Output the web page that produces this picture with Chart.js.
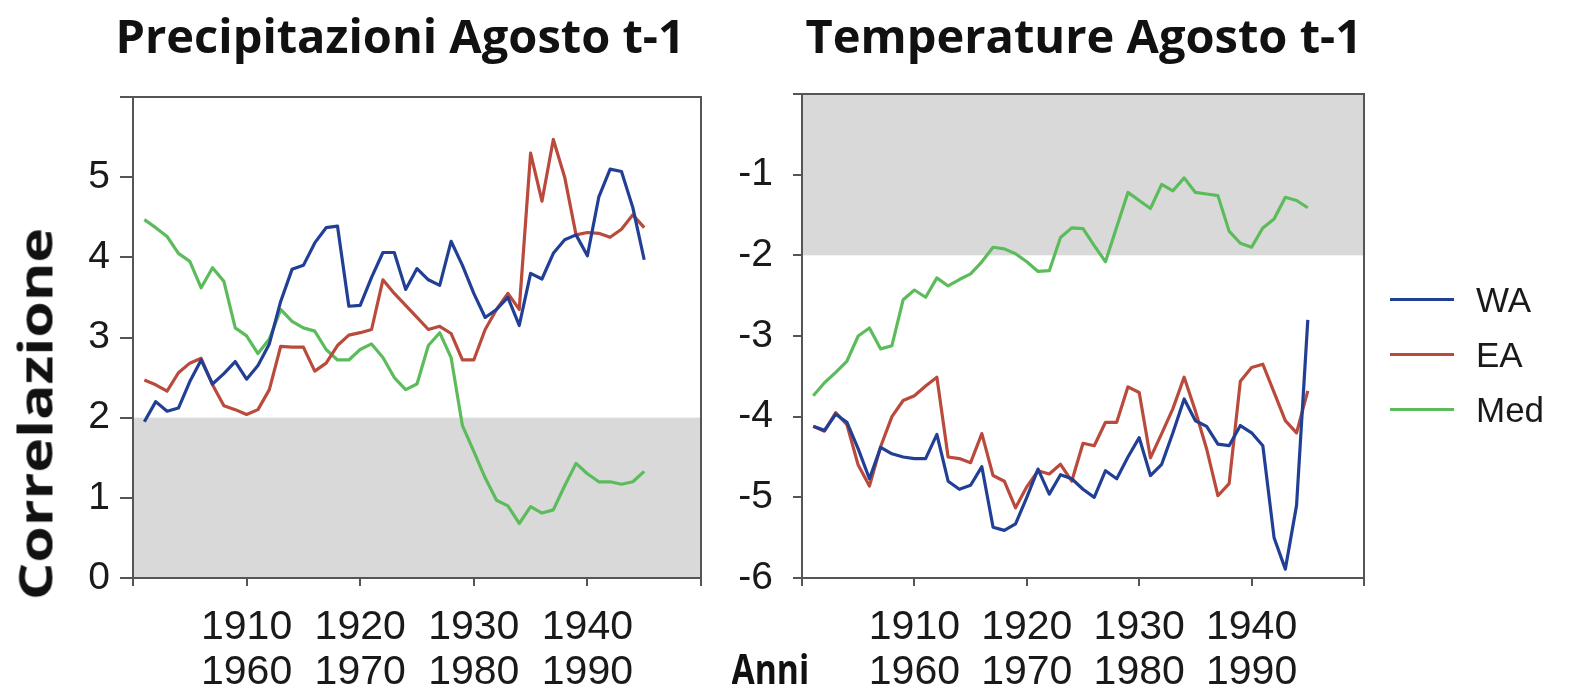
<!DOCTYPE html>
<html>
<head>
<meta charset="utf-8">
<title>Correlazione Agosto t-1</title>
<script src="https://cdn.jsdelivr.net/npm/chart.js@4.4.0/dist/chart.umd.min.js"></script>
<style>
    body {
        margin: 0;
        width: 1582px;
        height: 688px;
        position: relative;
        overflow: hidden;
        background: #ffffff;
    }
    canvas { position: absolute; top: 0; }
    .heading {
        position: absolute;
        font-family: "Open Sans", sans-serif;
        font-weight: 700;
        color: #111111;
        line-height: 1;
        white-space: nowrap;
    }
    .legend {
        position: absolute;
        left: 1390px;
        top: 272px;
        font-family: "Liberation Sans", Arial, sans-serif;
        font-size: 35px;
        color: #1a1a1a;
    }
    .legend-row { display: flex; align-items: center; height: 55px; }
    .legend-line { width: 64px; height: 3px; margin-right: 22px; }
</style>
</head>
<body>
<canvas id="precChart" width="720" height="688" style="left:0px"></canvas>
<canvas id="tempChart" width="700" height="688" style="left:700px"></canvas>

<div class="heading" id="titlePrec" style="font-size:47px">Precipitazioni Agosto t-1</div>
<div class="heading" id="titleTemp" style="font-size:47px">Temperature Agosto t-1</div>
<div class="heading" id="yTitle" style="font-size:46px">Correlazione</div>
<div class="heading" id="xTitle" style="font-size:41px">Anni</div>
<div class="legend" id="legend"></div>

<script>
// Years of the moving window (first label row), second row is the end year
const years = [1901, 1902, 1903, 1904, 1905, 1906, 1907, 1908, 1909, 1910,
    1911, 1912, 1913, 1914, 1915, 1916, 1917, 1918, 1919, 1920,
    1921, 1922, 1923, 1924, 1925, 1926, 1927, 1928, 1929, 1930,
    1931, 1932, 1933, 1934, 1935, 1936, 1937, 1938, 1939, 1940,
    1941, 1942, 1943, 1944, 1945];
const tickYearsStart = [1910, 1920, 1930, 1940];
const tickYearsEnd = [1960, 1970, 1980, 1990];

const seriesNames = ["WA", "EA", "Med"];
const seriesColors = ["#223f96", "#b94a3c", "#5cbc5c"];

// Precipitazioni Agosto t-1
const precWA = [1.95, 2.20, 2.08, 2.12, 2.45, 2.72, 2.42, 2.55, 2.70, 2.48,
    2.65, 2.92, 3.45, 3.85, 3.90, 4.18, 4.37, 4.39, 3.39, 3.40,
    3.75, 4.06, 4.06, 3.60, 3.86, 3.72, 3.65, 4.20, 3.90, 3.55,
    3.25, 3.35, 3.50, 3.15, 3.80, 3.73, 4.05, 4.22, 4.28, 4.02,
    4.75, 5.10, 5.07, 4.62, 3.97];
const precEA = [2.47, 2.41, 2.33, 2.56, 2.68, 2.74, 2.41, 2.15, 2.10, 2.04,
    2.10, 2.35, 2.89, 2.88, 2.88, 2.58, 2.68, 2.90, 3.03, 3.06,
    3.10, 3.72, 3.55, 3.40, 3.25, 3.10, 3.14, 3.05, 2.72, 2.72,
    3.10, 3.35, 3.55, 3.35, 5.30, 4.70, 5.47, 5.00, 4.28, 4.31,
    4.30, 4.25, 4.35, 4.53, 4.37];
const precMed = [4.47, 4.37, 4.26, 4.05, 3.95, 3.62, 3.87, 3.70, 3.12, 3.02,
    2.80, 2.98, 3.35, 3.20, 3.12, 3.08, 2.85, 2.72, 2.72, 2.85,
    2.92, 2.75, 2.50, 2.35, 2.42, 2.90, 3.06, 2.75, 1.90, 1.58,
    1.25, 0.97, 0.90, 0.68, 0.89, 0.81, 0.85, 1.15, 1.43, 1.30,
    1.20, 1.20, 1.17, 1.20, 1.33];

// Temperature Agosto t-1
const tempWA = [-4.12, -4.17, -3.97, -4.07, -4.40, -4.77, -4.38, -4.46, -4.50, -4.52,
    -4.52, -4.22, -4.80, -4.90, -4.85, -4.62, -5.37, -5.41, -5.33, -5.00,
    -4.65, -4.96, -4.72, -4.77, -4.90, -5.00, -4.67, -4.77, -4.50, -4.26,
    -4.73, -4.59, -4.20, -3.78, -4.05, -4.12, -4.34, -4.36, -4.11, -4.20,
    -4.36, -5.50, -5.89, -5.10, -2.80];
const tempEA = [-4.12, -4.18, -3.95, -4.10, -4.60, -4.86, -4.37, -4.00, -3.80, -3.74,
    -3.62, -3.51, -4.50, -4.52, -4.57, -4.21, -4.73, -4.80, -5.13, -4.87,
    -4.67, -4.71, -4.59, -4.80, -4.33, -4.36, -4.07, -4.07, -3.63, -3.70,
    -4.51, -4.21, -3.90, -3.51, -3.93, -4.40, -4.98, -4.83, -3.56, -3.39,
    -3.35, -3.70, -4.05, -4.20, -3.68];
const tempMed = [-3.74, -3.58, -3.45, -3.31, -3.00, -2.90, -3.16, -3.12, -2.55, -2.43,
    -2.52, -2.28, -2.38, -2.30, -2.23, -2.08, -1.90, -1.92, -1.98, -2.08,
    -2.20, -2.19, -1.78, -1.66, -1.67, -1.88, -2.08, -1.65, -1.22, -1.32,
    -1.42, -1.12, -1.20, -1.04, -1.22, -1.24, -1.26, -1.70, -1.85, -1.90,
    -1.66, -1.55, -1.28, -1.32, -1.41];

// Shaded (non significant) ranges
const precBand = [0, 2];
const tempBand = [-2, 0];

const axisColor = "#555555";
const tickFont = { family: "'Liberation Sans', Arial, sans-serif", size: 39 };

// Grey band under the axes plus the top/right frame lines
const bandAndFrame = {
    id: "bandAndFrame",
    beforeDraw(chart, args, opts) {
        const { ctx, chartArea, scales } = chart;
        const top = scales.y.getPixelForValue(opts.band[1]);
        const bottom = scales.y.getPixelForValue(opts.band[0]);
        ctx.save();
        ctx.fillStyle = "#d9d9d9";
        ctx.fillRect(chartArea.left, top, chartArea.right - chartArea.left, bottom - top);
        ctx.restore();
    },
    afterDraw(chart) {
        const { ctx, chartArea } = chart;
        ctx.save();
        ctx.strokeStyle = axisColor;
        ctx.lineWidth = 2;
        ctx.beginPath();
        ctx.moveTo(chartArea.left, chartArea.top);
        ctx.lineTo(chartArea.right, chartArea.top);
        ctx.lineTo(chartArea.right, chartArea.bottom);
        ctx.stroke();
        ctx.restore();
    }
};

function makeDatasets(valueLists) {
    return valueLists.map((values, i) => ({
        label: seriesNames[i],
        data: years.map((year, j) => ({ x: year, y: values[j] })),
        borderColor: seriesColors[i],
        borderWidth: 3.2,
        pointRadius: 0,
        tension: 0,
        borderJoinStyle: "round"
    }));
}

function makeChart(canvasId, valueLists, opts) {
    const ctx = document.getElementById(canvasId).getContext("2d");
    return new Chart(ctx, {
        type: "line",
        data: { datasets: makeDatasets(valueLists) },
        options: {
            responsive: false,
            animation: false,
            layout: { padding: opts.padding },
            scales: {
                x: {
                    type: "linear",
                    min: 1900,
                    max: 1950,
                    border: { display: true, color: axisColor, width: 2 },
                    grid: { drawOnChartArea: false, drawTicks: true, tickLength: 8, color: axisColor, lineWidth: 2 },
                    ticks: {
                        stepSize: 10,
                        autoSkip: false,
                        maxRotation: 0,
                        padding: 19,
                        color: "#1a1a1a",
                        font: { ...tickFont, size: 41, lineHeight: 1.1 },
                        callback: function (value) {
                            const i = tickYearsStart.indexOf(value);
                            return i < 0 ? "" : [String(tickYearsStart[i]), String(tickYearsEnd[i])];
                        }
                    },
                    afterFit: (scale) => { scale.height = opts.xHeight; }
                },
                y: {
                    min: opts.yMin,
                    max: opts.yMax,
                    border: { display: true, color: axisColor, width: 2 },
                    grid: { drawOnChartArea: false, drawTicks: true, tickLength: opts.yTick, color: axisColor, lineWidth: 2 },
                    ticks: {
                        stepSize: 1,
                        padding: opts.yPad,
                        color: "#1a1a1a",
                        font: tickFont,
                        callback: (value) => (value === opts.hideTick ? "" : value)
                    },
                    afterFit: (scale) => { scale.width = opts.yWidth; }
                }
            },
            plugins: {
                legend: { display: false },
                tooltip: { enabled: false },
                bandAndFrame: { band: opts.band }
            }
        },
        plugins: [bandAndFrame]
    });
}

makeChart("precChart", [precWA, precEA, precMed], {
    padding: { left: 0, top: 97, right: 14, bottom: 0 },
    xHeight: 110, yWidth: 133, yTick: 13, yPad: 10,
    yMin: 0, yMax: 6, hideTick: 6, band: precBand
});

makeChart("tempChart", [tempWA, tempEA, tempMed], {
    padding: { left: 0, top: 94, right: 36, bottom: 0 },
    xHeight: 110, yWidth: 102, yTick: 9, yPad: 20,
    yMin: -6, yMax: 0, hideTick: 0, band: tempBand
});

// Legend built from the series names and colours
const legend = document.getElementById("legend");
seriesNames.forEach((name, i) => {
    const row = document.createElement("div");
    row.className = "legend-row";
    const line = document.createElement("span");
    line.className = "legend-line";
    line.style.background = seriesColors[i];
    const text = document.createElement("span");
    text.textContent = name;
    row.appendChild(line);
    row.appendChild(text);
    legend.appendChild(row);
});

// Place headings by their centre point
function placeCentered(id, cx, top, transform) {
    const el = document.getElementById(id);
    el.style.left = (cx - el.offsetWidth / 2) + "px";
    el.style.top = top + "px";
    if (transform) el.style.transform = transform;
}
placeCentered("titlePrec", 400, 12);
placeCentered("titleTemp", 1084, 12);
placeCentered("xTitle", 770, 648, "scaleX(0.82)");

const yTitle = document.getElementById("yTitle");
yTitle.style.left = (34 - yTitle.offsetWidth / 2) + "px";
yTitle.style.top = (414 - yTitle.offsetHeight / 2) + "px";
yTitle.style.transform = "rotate(-90deg) scaleX(1.28)";
</script>
</body>
</html>
